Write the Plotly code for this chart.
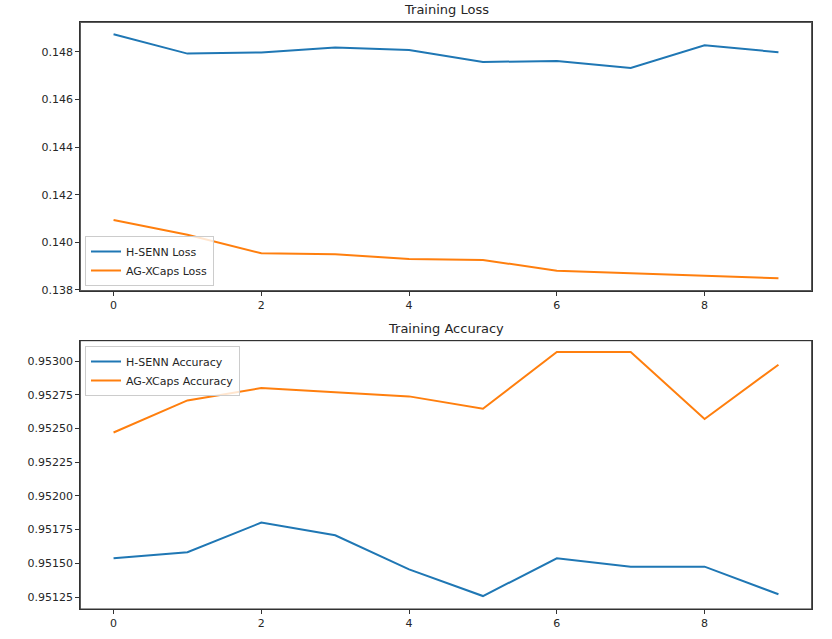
import plotly.graph_objects as go

epochs = list(range(10))
hsenn_loss = [0.14873, 0.14792, 0.14797, 0.14818, 0.14807, 0.14757, 0.14761, 0.14732, 0.14827, 0.14798]
agx_loss = [0.14094, 0.14032, 0.13954, 0.13950, 0.13930, 0.13926, 0.13881, 0.13870, 0.13860, 0.13849]
hsenn_acc = [0.951537, 0.951582, 0.951802, 0.951708, 0.951455, 0.951257, 0.951537, 0.951475, 0.951475, 0.951270]
agx_acc = [0.952470, 0.952708, 0.952800, 0.952770, 0.952738, 0.952646, 0.953067, 0.953067, 0.952570, 0.952973]

blue = "#1f77b4"
orange = "#ff7f0e"
W, H = 832, 639
font = "DejaVu Sans"


def px(v):
    return v / W


def py(v):
    return 1 - v / H


fig = go.Figure()
fig.add_trace(go.Scatter(x=epochs, y=hsenn_loss, mode="lines", name="H-SENN Loss",
                         line=dict(color=blue, width=2), xaxis="x", yaxis="y", legend="legend"))
fig.add_trace(go.Scatter(x=epochs, y=agx_loss, mode="lines", name="AG-XCaps Loss",
                         line=dict(color=orange, width=2), xaxis="x", yaxis="y", legend="legend"))
fig.add_trace(go.Scatter(x=epochs, y=hsenn_acc, mode="lines", name="H-SENN Accuracy",
                         line=dict(color=blue, width=2), xaxis="x2", yaxis="y2", legend="legend2"))
fig.add_trace(go.Scatter(x=epochs, y=agx_acc, mode="lines", name="AG-XCaps Accuracy",
                         line=dict(color=orange, width=2), xaxis="x2", yaxis="y2", legend="legend2"))

xd = [px(80.3), px(811.7)]
yd1 = [py(290.7), py(22.3)]
yd2 = [py(609), py(340.7)]

axcommon = dict(showgrid=False, zeroline=False, showline=True, linecolor="#333333", linewidth=1,
                mirror=True, ticks="outside", ticklen=4, tickcolor="#333333",
                tickfont=dict(family=font, size=11, color="#262626"))

frames = [
    dict(type="rect", xref="paper", yref="paper", x0=xd[0], x1=xd[1], y0=yd[0], y1=yd[1],
         line=dict(color="#333333", width=1), fillcolor="rgba(0,0,0,0)", layer="above")
    for yd in (yd1, yd2)
]

fig.update_layout(
    width=W, height=H, margin=dict(l=0, r=0, t=0, b=0, autoexpand=False),
    paper_bgcolor="white", plot_bgcolor="white",
    font=dict(family=font, size=11, color="#262626"),
    xaxis=dict(domain=xd, anchor="y", range=[-0.45, 9.45], tickvals=[0, 2, 4, 6, 8], **axcommon),
    yaxis=dict(domain=yd1, anchor="x", range=[0.13797, 0.149234], dtick=0.002, tick0=0.138,
               tickformat=".3f", **axcommon),
    xaxis2=dict(domain=xd, anchor="y2", range=[-0.45, 9.45], tickvals=[0, 2, 4, 6, 8], **axcommon),
    yaxis2=dict(domain=yd2, anchor="x2", range=[0.951161, 0.953151], dtick=0.00025, tick0=0.95125,
                tickformat=".5f", **axcommon),
    legend=dict(x=px(85), y=py(286), xanchor="left", yanchor="bottom",
                bgcolor="rgba(255,255,255,0.8)", bordercolor="#cccccc", borderwidth=1,
                font=dict(family=font, size=11, color="#262626"), itemwidth=30,
                tracegroupgap=0),
    legend2=dict(x=px(85), y=py(346), xanchor="left", yanchor="top",
                 bgcolor="rgba(255,255,255,0.8)", bordercolor="#cccccc", borderwidth=1,
                 font=dict(family=font, size=11, color="#262626"), itemwidth=30,
                 tracegroupgap=0),
    showlegend=True,
    shapes=frames,
    annotations=[
        dict(text="Training Loss", x=(xd[0] + xd[1]) / 2, y=yd1[1], xref="paper", yref="paper",
             xanchor="center", yanchor="bottom", yshift=3, showarrow=False,
             font=dict(family=font, size=13, color="#262626")),
        dict(text="Training Accuracy", x=(xd[0] + xd[1]) / 2, y=yd2[1], xref="paper", yref="paper",
             xanchor="center", yanchor="bottom", yshift=3, showarrow=False,
             font=dict(family=font, size=13, color="#262626")),
    ],
)

fig.write_html("out.html", config={"displayModeBar": False},
               post_script="document.body.style.margin='0';")
